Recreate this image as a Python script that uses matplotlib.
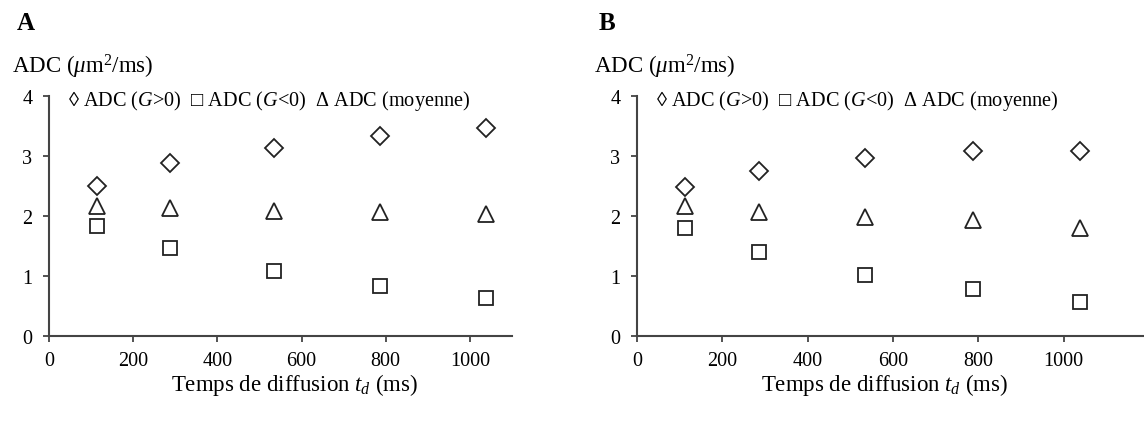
import matplotlib
matplotlib.use("Agg")
import matplotlib.pyplot as plt

plt.rcParams["font.family"] = ["Liberation Serif", "DejaVu Serif"]
plt.rcParams["mathtext.fontset"] = "custom"
plt.rcParams["mathtext.rm"] = "Liberation Serif"
plt.rcParams["mathtext.it"] = "Liberation Serif:italic"

# temps de diffusion (ms)
td = [113, 287, 535, 787, 1038]

# panel A
adc_pos_a = [2.50, 2.88, 3.13, 3.33, 3.46]
adc_neg_a = [1.84, 1.46, 1.08, 0.84, 0.63]
adc_moy_a = [2.17, 2.13, 2.09, 2.06, 2.03]

# panel B
adc_pos_b = [2.48, 2.75, 2.97, 3.08, 3.08]
adc_neg_b = [1.80, 1.40, 1.02, 0.78, 0.57]
adc_moy_b = [2.16, 2.07, 1.99, 1.93, 1.80]

x_ticks = [0, 200, 400, 600, 800, 1000]
y_ticks = [0, 1, 2, 3, 4]

legend_txt = "◊ ADC ($G$>0)  □ ADC ($G$<0)  Δ ADC (moyenne)"
ylabel_txt = "ADC ($\\mu$m$^2$/ms)"
xlabel_txt = "Temps de diffusion $t_d$ (ms)"

W, H = 1144, 427
fig = plt.figure(figsize=(W / 100, H / 100), dpi=100)


def panel(rect, xmax, pos, neg, moy, letter, letter_x, xlab_x):
    ax = fig.add_axes(rect)
    kw = dict(linestyle="none", markerfacecolor="none", markeredgecolor="#222222",
              markeredgewidth=1.3, clip_on=False)
    ax.plot(td, pos, marker="D", markersize=9, **kw)
    ax.plot(td, moy, marker="^", markersize=11.5, **kw)
    ax.plot(td, neg, marker="s", markersize=10, **kw)
    ax.set_xlim(0, xmax)
    ax.set_ylim(0, 4)
    ax.set_xticks(x_ticks)
    ax.set_yticks(y_ticks)
    ax.spines["top"].set_visible(False)
    ax.spines["right"].set_visible(False)
    for s in ("left", "bottom"):
        ax.spines[s].set_color("#444444")
        ax.spines[s].set_linewidth(1.5)
    ax.tick_params(axis="both", direction="out", length=4, width=1.3,
                   color="#444444", labelsize=14.5)
    ax.tick_params(axis="y", pad=8)
    ax.tick_params(axis="x", pad=7)
    l = rect[0]
    fig.text(letter_x / W, 1 - 23 / H, letter, fontsize=18, fontweight="bold",
             ha="left", va="center")
    fig.text((letter_x - 5) / W, 1 - 67 / H, ylabel_txt, fontsize=16.5,
             ha="left", va="center")
    fig.text(l + 19 / W, 1 - 101 / H, legend_txt, fontsize=14.6,
             ha="left", va="center")
    fig.text(xlab_x / W, 1 - 385 / H, xlabel_txt, fontsize=16.5,
             ha="center", va="center")
    return ax


bottom = 1 - 337 / H
height = (337 - 97) / H
panel([49 / W, bottom, (512 - 49) / W, height], 1100,
      adc_pos_a, adc_neg_a, adc_moy_a, "A", 17, 295)
panel([637 / W, bottom, (1144 - 637) / W, height], 1188,
      adc_pos_b, adc_neg_b, adc_moy_b, "B", 599, 885)

fig.savefig("out.png", dpi=100)
